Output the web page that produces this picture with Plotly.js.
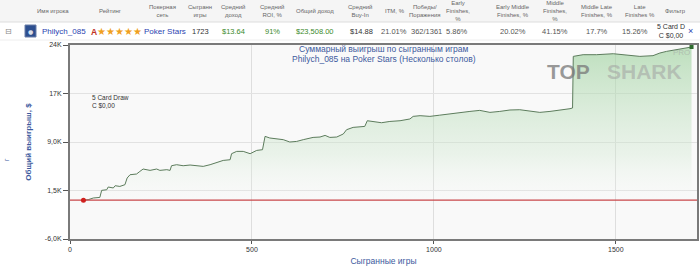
<!DOCTYPE html>
<html>
<head>
<meta charset="utf-8">
<script src="https://cdn.plot.ly/plotly-3.0.1.min.js"></script>
<style>
html,body{margin:0;padding:0;background:#fff;}
#chart{width:700px;height:269px;}
</style>
</head>
<body>
<div id="chart"></div>
<script>
// ---------- data ----------
const games = [37,50,64,82,87,101,105,119,124,137,151,157,165,183,192,201,220,238,247,266,275,279,293,311,330,348,366,385,403,421,440,444,458,476,495,513,529,536,549,568,586,604,623,641,668,687,701,714,733,751,760,778,797,810,817,833,856,879,907,934,943,962,989,1016,1044,1071,1099,1126,1154,1181,1209,1236,1264,1291,1319,1346,1374,1381,1383,1410,1447,1493,1529,1566,1602,1621,1639,1667,1694,1708];
const winnings = [0,80,340,430,1520,1620,2040,1890,2240,2130,2400,3430,3940,4050,4450,4820,4610,4820,4610,4720,4610,5330,5490,5330,5440,5330,5230,5490,5850,6150,6260,7190,7550,7550,7190,7700,7810,9870,9620,9510,9360,9000,9090,9360,9710,9770,10020,9710,9770,10240,10900,11260,11320,11410,12290,12180,11980,12180,12290,12560,12960,13070,12960,13150,13380,13580,13730,13890,13580,13730,13950,13990,13840,13580,13730,13890,14150,14260,22240,22500,22500,22650,22500,22240,22350,22760,23010,23270,23540,23690];

const yTickVals = [-6000,1500,9000,16500,24000];
const yTickText = ['-6,0K','1,5K','9,0K','17K','24K'];
const xTickVals = [0,500,1000,1500];
const xTickText = ['0','500','1000','1500'];

const headerLabels = ['Имя игрока','Рейтинг','Покерная<br>сеть','Сыгранн<br>игры','Средний<br>доход','Средний<br>ROI, %','Общий доход','Средний<br>Buy-In','ITM, %','Победы/<br>Поражения','Early<br>Finishes,<br>%','Early Middle<br>Finishes, %','Middle<br>Finishes,<br>%','Middle Late<br>Finishes, %','Late<br>Finishes %','Фильтр'];
const headerCenters = [53,110,162,200,233,272,315,360,395,425,458,513,555,597,640,675];
const rowValues = ['1723','$13.64','91%','$23,508.00','$14.88','21.01%','362/1361','5.86%','20.02%','41.15%','17.7%','15.26%'];
const rowCenters = [200,233,272,315,361,394,426,457,513,555,597,635];
const rowColors = ['#333','#3a8a2a','#3a8a2a','#3a8a2a','#333','#555','#555','#555','#555','#555','#555','#555'];

const playerName = 'Philych_085';
const network = 'Poker Stars';
const filterText = '5 Card D<br>C $0,00';
const chartNote = '5 Card Draw<br>C $0,00';
const titleLine1 = 'Суммарный выигрыш по сыгранным играм';
const titleLine2 = 'Philych_085 на Poker Stars (Несколько столов)';

// ---------- geometry helpers (pixels -> paper) ----------
const L = 70, R = 697, T = 45, B = 239;
const fx = px => (px - L) / (R - L);
const fy = py => (B - py) / (B - T);

const FONT = 'Liberation Sans, Arial, sans-serif';
const BLUE = '#3d5a9e';

const annotations = [];
const shapes = [];

// table header background
shapes.push({type:'rect', xref:'paper', yref:'paper', x0:fx(0), x1:fx(700), y0:fy(22), y1:fy(0), fillcolor:'#f5f5f5', line:{width:0}, layer:'below'});
shapes.push({type:'line', xref:'paper', yref:'paper', x0:fx(0), x1:fx(700), y0:fy(22), y1:fy(22), line:{color:'#dddddd', width:1}});
shapes.push({type:'line', xref:'paper', yref:'paper', x0:fx(0), x1:fx(700), y0:fy(40), y1:fy(40), line:{color:'#eeeeee', width:1}});

headerLabels.forEach((t, i) => {
  annotations.push({xref:'paper', yref:'paper', x:fx(headerCenters[i]), y:fy(11), text:t, showarrow:false,
    xanchor:'center', yanchor:'middle', font:{family:FONT, size:6, color:'#666'}});
});

// data row
annotations.push({xref:'paper', yref:'paper', x:fx(8), y:fy(31), text:'⊟', showarrow:false, xanchor:'center', yanchor:'middle', font:{family:'DejaVu Sans', size:8, color:'#888'}});
shapes.push({type:'rect', xref:'paper', yref:'paper', x0:fx(25), x1:fx(36), y0:fy(37), y1:fy(25), fillcolor:'#2d4f8f', line:{color:'#6b7fa8', width:1}});
annotations.push({xref:'paper', yref:'paper', x:fx(30.5), y:fy(31), text:'●', showarrow:false, xanchor:'center', yanchor:'middle', font:{family:'DejaVu Sans', size:6, color:'#d8dee9'}});
annotations.push({xref:'paper', yref:'paper', x:fx(40), y:fy(31), text:playerName, showarrow:false, xanchor:'left', yanchor:'middle', font:{family:FONT, size:8, color:'#2a3fb0'}});
annotations.push({xref:'paper', yref:'paper', x:fx(89), y:fy(31), text:'<b>A</b><span style="color:#f0a020;font-size:10px">★★★★★</span>', showarrow:false, xanchor:'left', yanchor:'middle', font:{family:FONT, size:8.5, color:'#c0301e'}});
annotations.push({xref:'paper', yref:'paper', x:fx(165), y:fy(31), text:network, showarrow:false, xanchor:'center', yanchor:'middle', font:{family:FONT, size:8, color:'#2a3fb0'}});
rowValues.forEach((t, i) => {
  annotations.push({xref:'paper', yref:'paper', x:fx(rowCenters[i]), y:fy(31), text:t, showarrow:false,
    xanchor:'center', yanchor:'middle', font:{family:FONT, size:7.5, color:rowColors[i]}});
});
annotations.push({xref:'paper', yref:'paper', x:fx(655), y:fy(31), text:filterText, showarrow:false, xanchor:'left', yanchor:'middle', font:{family:FONT, size:7, color:'#333'}});
annotations.push({xref:'paper', yref:'paper', x:fx(690), y:fy(31), text:'×', showarrow:false, xanchor:'center', yanchor:'middle', font:{family:FONT, size:9, color:'#2a3fb0'}});

// chart title
annotations.push({xref:'paper', yref:'paper', x:0.5, y:fy(49), text:titleLine1, showarrow:false, xanchor:'center', yanchor:'middle', font:{family:FONT, size:8.5, color:BLUE}});
annotations.push({xref:'paper', yref:'paper', x:0.5, y:fy(59), text:titleLine2, showarrow:false, xanchor:'center', yanchor:'middle', font:{family:FONT, size:8.5, color:BLUE}});

// in-chart filter note
annotations.push({xref:'paper', yref:'paper', x:fx(90), y:fy(92), text:chartNote, showarrow:false, xanchor:'left', yanchor:'top', align:'left', font:{family:FONT, size:6.5, color:'#333'}});

// watermark
annotations.push({xref:'paper', yref:'paper', x:fx(545), y:fy(71), text:'<b>TOP</b>', showarrow:false, xanchor:'left', yanchor:'middle', font:{family:FONT, size:21, color:'rgba(120,120,120,0.75)'}});
annotations.push({xref:'paper', yref:'paper', x:fx(605), y:fy(71), text:'<b>SHARK</b>', showarrow:false, xanchor:'left', yanchor:'middle', font:{family:FONT, size:21, color:'rgba(160,160,160,0.55)'}});
annotations.push({xref:'paper', yref:'paper', x:fx(692), y:fy(53), text:'PRO', showarrow:false, xanchor:'right', yanchor:'middle', font:{family:FONT, size:8, color:'rgba(160,160,160,0.55)'}});

// stray mark at far left
annotations.push({xref:'paper', yref:'paper', x:fx(6), y:fy(160), text:'г', textangle:-90, showarrow:false, xanchor:'center', yanchor:'middle', font:{family:FONT, size:7, color:BLUE}});

const traces = [
  {
    x: games, y: winnings, type:'scatter', mode:'lines',
    line:{color:'#5c7c5c', width:1},
    fill:'tozeroy',
    fillgradient:{type:'vertical', start:-2000, stop:24000,
      colorscale:[[0,'rgba(255,255,255,0)'],[0.35,'rgba(205,230,205,0.35)'],[1,'rgba(155,208,155,0.65)']]},
    hoverinfo:'skip', showlegend:false
  },
  {
    x:[0, 1723], y:[0, 0], type:'scatter', mode:'lines',
    line:{color:'#c8474a', width:1.2}, hoverinfo:'skip', showlegend:false
  },
  {
    x:[games[0]], y:[winnings[0]], type:'scatter', mode:'markers',
    marker:{color:'#d0201e', size:5, symbol:'circle'}, hoverinfo:'skip', showlegend:false
  },
  {
    x:[games[games.length-1]], y:[winnings[winnings.length-1]], type:'scatter', mode:'markers',
    marker:{color:'#2e6b2e', size:4, symbol:'square'}, hoverinfo:'skip', showlegend:false
  }
];

const layout = {
  width:700, height:269,
  margin:{l:L, r:700-R, t:T, b:269-B, pad:0},
  paper_bgcolor:'#ffffff',
  plot_bgcolor:'#f9f9f9',
  showlegend:false,
  xaxis:{
    range:[0,1723], tickvals:xTickVals, ticktext:xTickText,
    ticks:'outside', ticklen:3, tickcolor:'#555',
    tickfont:{family:FONT, size:7, color:'#333'},
    showgrid:true, gridcolor:'#dedede', gridwidth:1,
    zeroline:false, showline:true, linecolor:'#7a7a7a', linewidth:2, mirror:true,
    title:{text:'Сыгранные игры', font:{family:FONT, size:8.5, color:BLUE}, standoff:6},
    fixedrange:true
  },
  yaxis:{
    range:[-6000,24000], tickvals:yTickVals, ticktext:yTickText,
    ticks:'outside', ticklen:5, tickcolor:'#555',
    tickfont:{family:FONT, size:7, color:'#333'},
    showgrid:true, gridcolor:'#e2e2e2', gridwidth:1,
    zeroline:false, showline:true, linecolor:'#7a7a7a', linewidth:2, mirror:true,
    title:{text:'<b>Общий выигрыш, $</b>', font:{family:FONT, size:8, color:BLUE}, standoff:12},
    fixedrange:true
  },
  annotations: annotations,
  shapes: shapes
};

Plotly.newPlot('chart', traces, layout, {displayModeBar:false, staticPlot:true});
</script>
</body>
</html>
